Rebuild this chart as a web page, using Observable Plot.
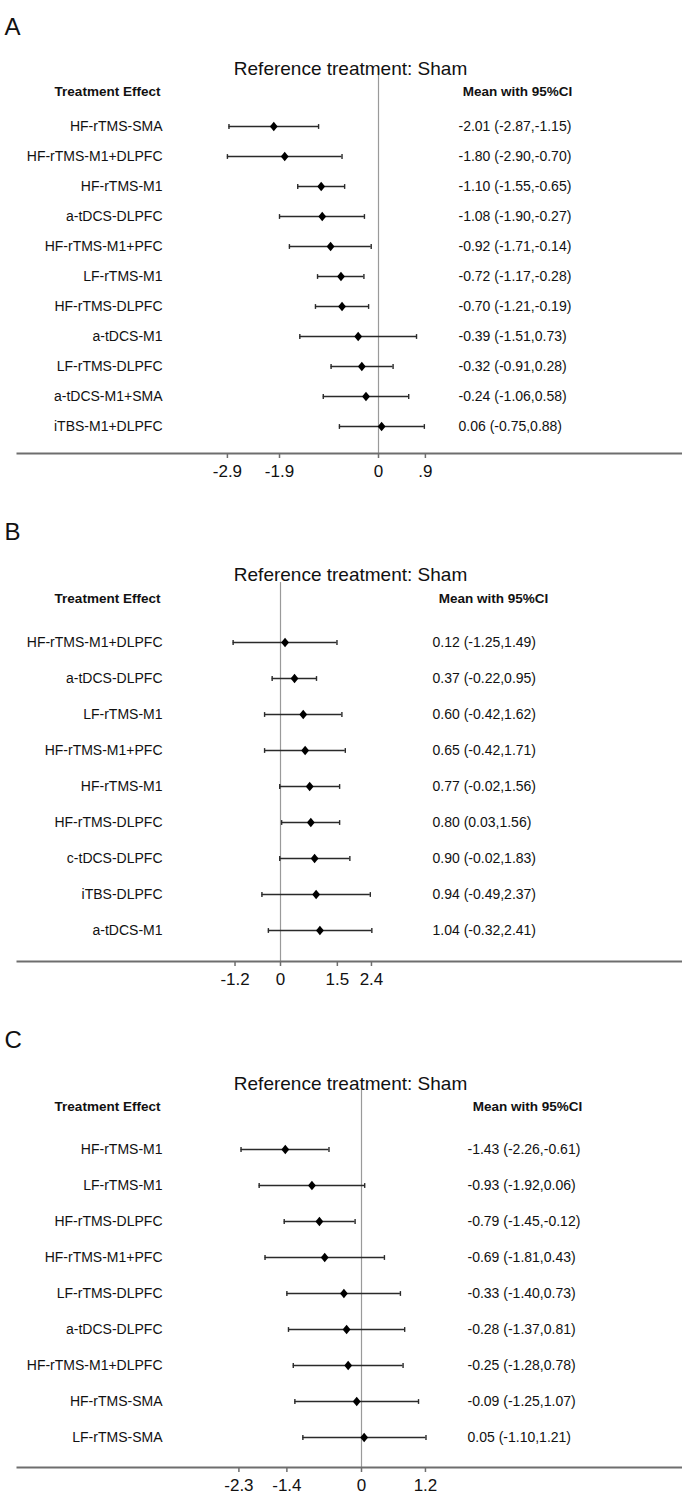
<!DOCTYPE html>
<html>
<head>
<meta charset="utf-8">
<script src="https://cdn.jsdelivr.net/npm/d3@7"></script>
<script src="https://cdn.jsdelivr.net/npm/@observablehq/plot@0.6"></script>
<style>
  html, body { margin: 0; padding: 0; background: #fff; }
  #chart svg { display: block; }
</style>
</head>
<body>
<div id="chart"></div>
<script>
// ---------- Data ----------
const titleText = "Reference treatment: Sham";
const headerLeft = "Treatment Effect";
const headerRight = "Mean with 95%CI";

const namesA = ["HF-rTMS-SMA","HF-rTMS-M1+DLPFC","HF-rTMS-M1","a-tDCS-DLPFC","HF-rTMS-M1+PFC","LF-rTMS-M1","HF-rTMS-DLPFC","a-tDCS-M1","LF-rTMS-DLPFC","a-tDCS-M1+SMA","iTBS-M1+DLPFC"];
const meanA  = [-2.01,-1.80,-1.10,-1.08,-0.92,-0.72,-0.70,-0.39,-0.32,-0.24,0.06];
const lowA   = [-2.87,-2.90,-1.55,-1.90,-1.71,-1.17,-1.21,-1.51,-0.91,-1.06,-0.75];
const highA  = [-1.15,-0.70,-0.65,-0.27,-0.14,-0.28,-0.19,0.73,0.28,0.58,0.88];
const ticksA = [-2.9,-1.9,0,0.9];
const tickLabelsA = ["-2.9","-1.9","0",".9"];

const namesB = ["HF-rTMS-M1+DLPFC","a-tDCS-DLPFC","LF-rTMS-M1","HF-rTMS-M1+PFC","HF-rTMS-M1","HF-rTMS-DLPFC","c-tDCS-DLPFC","iTBS-DLPFC","a-tDCS-M1"];
const meanB  = [0.12,0.37,0.60,0.65,0.77,0.80,0.90,0.94,1.04];
const lowB   = [-1.25,-0.22,-0.42,-0.42,-0.02,0.03,-0.02,-0.49,-0.32];
const highB  = [1.49,0.95,1.62,1.71,1.56,1.56,1.83,2.37,2.41];
const ticksB = [-1.2,0,1.5,2.4];
const tickLabelsB = ["-1.2","0","1.5","2.4"];

const namesC = ["HF-rTMS-M1","LF-rTMS-M1","HF-rTMS-DLPFC","HF-rTMS-M1+PFC","LF-rTMS-DLPFC","a-tDCS-DLPFC","HF-rTMS-M1+DLPFC","HF-rTMS-SMA","LF-rTMS-SMA"];
const meanC  = [-1.43,-0.93,-0.79,-0.69,-0.33,-0.28,-0.25,-0.09,0.05];
const lowC   = [-2.26,-1.92,-1.45,-1.81,-1.40,-1.37,-1.28,-1.25,-1.10];
const highC  = [-0.61,0.06,-0.12,0.43,0.73,0.81,0.78,1.07,1.21];
const ticksC = [-2.3,-1.4,0,1.2];
const tickLabelsC = ["-2.3","-1.4","0","1.2"];

// ---------- Drawing ----------
const FONT = "'Liberation Sans', Arial, Helvetica, sans-serif";
const W = 682, ML = 17;

const diamond = {
  draw(context, size) {
    const s = Math.sqrt(size / Math.PI);
    context.moveTo(0, -1.18 * s);
    context.lineTo(0.98 * s, 0);
    context.lineTo(0, 1.18 * s);
    context.lineTo(-0.98 * s, 0);
    context.closePath();
  }
};
const vbar = {
  draw(context, size) {
    const s = Math.sqrt(size / Math.PI);
    context.moveTo(0, -s);
    context.lineTo(0, s);
  }
};

function panel(letter, names, mean, low, high, ticks, tickLabels, L) {
  const rows = names.map((name, i) => ({name, mean: mean[i], lo: low[i], hi: high[i]}));
  const fmt = d => `${d.mean.toFixed(2)} (${d.lo.toFixed(2)},${d.hi.toFixed(2)})`;
  const tickMap = new Map(ticks.map((t, i) => [t, tickLabels[i]]));
  const axisY = L.height - L.mb;
  return Plot.plot({
    width: W,
    height: L.height,
    marginLeft: ML,
    marginRight: 0,
    marginTop: L.mt,
    marginBottom: L.mb,
    style: {fontFamily: FONT, background: "#fff", color: "#111", overflow: "visible"},
    x: {domain: [(ML - L.x0) / L.ppu, (W - L.x0) / L.ppu], axis: null},
    y: {type: "point", domain: names, padding: 0, insetTop: L.row1 - L.mt, insetBottom: axisY - L.rowN, axis: null},
    marks: [
      Plot.ruleX([0], {stroke: "#9a9a9a", strokeWidth: 1.2}),
      Plot.frame({anchor: "bottom", stroke: "#6e6e6e", strokeWidth: 2}),
      Plot.axisX({ticks, tickFormat: d => tickMap.get(d), tickSize: 5, tickPadding: 6,
        fontSize: 17, stroke: "#6e6e6e", strokeWidth: 1.5, fill: "#111", anchor: "bottom"}),
      Plot.ruleY(rows, {y: "name", x1: "lo", x2: "hi", stroke: "#2a2a2a", strokeWidth: 1.7}),
      Plot.dot(rows, {x: "lo", y: "name", symbol: vbar, r: 2.4, fill: "none", stroke: "#2a2a2a", strokeWidth: 1.4}),
      Plot.dot(rows, {x: "hi", y: "name", symbol: vbar, r: 2.4, fill: "none", stroke: "#2a2a2a", strokeWidth: 1.4}),
      Plot.dot(rows, {x: "mean", y: "name", symbol: diamond, r: 4, fill: "#000", stroke: null}),
      Plot.text(rows, {y: "name", text: "name", frameAnchor: "left", dx: 162 - ML, textAnchor: "end", fontSize: 14, fill: "#111"}),
      Plot.text(rows, {y: "name", text: fmt, frameAnchor: "left", dx: L.valX - ML, textAnchor: "start", fontSize: 14, fill: "#111"}),
      Plot.text([letter], {frameAnchor: "top-left", dx: 4 - ML, dy: L.letterY - L.mt, textAnchor: "start", fontSize: 24, fill: "#111"}),
      Plot.text([titleText], {frameAnchor: "top-left", dx: 350 - ML, dy: L.titleY - L.mt, textAnchor: "middle", fontSize: 19, fill: "#111"}),
      Plot.text([headerLeft], {frameAnchor: "top-left", dx: 107 - ML, dy: L.headerY - L.mt, textAnchor: "middle", fontSize: 13.5, fontWeight: "bold", fill: "#111"}),
      Plot.text([headerRight], {frameAnchor: "top-left", dx: L.meanHdrX - ML, dy: L.headerY - L.mt, textAnchor: "middle", fontSize: 13.5, fontWeight: "bold", fill: "#111"})
    ]
  });
}

const chart = document.getElementById("chart");
chart.append(panel("A", namesA, meanA, lowA, highA, ticksA, tickLabelsA,
  {height: 505, mt: 75, mb: 52, row1: 124, rowN: 428, letterY: 17, titleY: 61, headerY: 86, valX: 458, meanHdrX: 517, x0: 378, ppu: 52.1}));
chart.append(panel("B", namesB, meanB, lowB, highB, ticksB, tickLabelsB,
  {height: 507, mt: 77, mb: 51, row1: 133, rowN: 428, letterY: 17, titleY: 62, headerY: 88, valX: 432, meanHdrX: 493, x0: 280, ppu: 37.9}));
chart.append(panel("C", namesC, meanC, lowC, highC, ticksC, tickLabelsC,
  {height: 481, mt: 77, mb: 26, row1: 134, rowN: 427, letterY: 18, titleY: 64, headerY: 89, valX: 467, meanHdrX: 527, x0: 361, ppu: 53.3}));
</script>
</body>
</html>
